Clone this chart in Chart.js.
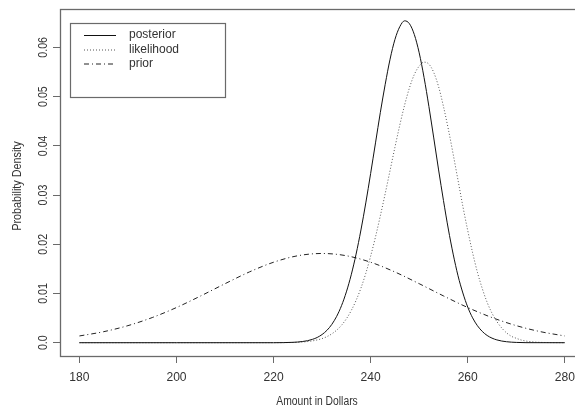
<!DOCTYPE html>
<html>
<head>
<meta charset="utf-8">
<script src="https://cdn.jsdelivr.net/npm/chart.js@4.4.1/dist/chart.umd.min.js"></script>
<style>
  html, body { margin: 0; padding: 0; background: #fff; }
  #chart { display: block; }
</style>
</head>
<body>
<canvas id="chart" width="575" height="409"></canvas>
<script>
// values
const posteriorX = [180, 200, 220, 224, 225, 226, 227, 228, 229, 230, 231, 232, 233, 234, 235, 236, 237, 238, 239, 240,
    241, 242, 243, 244, 245, 246, 247, 248, 249, 250, 251, 252, 253, 254, 255, 256, 257, 258, 259, 260,
    261, 262, 263, 264, 265, 266, 267, 268, 269, 270, 272, 280];
const posteriorY = [0, 0, 0, 0.00008, 0.00014, 0.00025, 0.00041, 0.00068, 0.00107, 0.00167, 0.00252, 0.00372, 0.00536, 0.00753, 0.01033, 0.0138, 0.018, 0.0229, 0.0284, 0.0344,
    0.0406, 0.0468, 0.0525, 0.0576, 0.0616, 0.0642, 0.0654, 0.0648, 0.0626, 0.0589, 0.0539, 0.048, 0.0416, 0.0351, 0.0289, 0.0231, 0.018, 0.0136, 0.0101, 0.00724,
    0.00506, 0.00345, 0.00229, 0.00147, 0.00093, 0.00057, 0.00034, 0.0002, 0.00011, 0.00006, 0.00001, 0];

const likelihoodX = [180, 200, 220, 225, 228, 230, 231, 232, 233, 234, 235, 236, 237, 238, 239, 240,
    241, 242, 243, 244, 245, 246, 247, 248, 249, 250, 251, 252, 253, 254, 255, 256, 257, 258, 259, 260,
    261, 262, 263, 264, 265, 266, 267, 268, 269, 270, 271, 272, 274, 276, 280];
const likelihoodY = [0, 0, 0.00001, 0.00009, 0.00037, 0.00084, 0.00124, 0.0018, 0.00255, 0.00355, 0.00486, 0.00653, 0.0086, 0.0111, 0.0141, 0.0176,
    0.0215, 0.0258, 0.0303, 0.035, 0.0397, 0.0442, 0.0483, 0.0518, 0.0545, 0.0562, 0.057, 0.0566, 0.0549, 0.052, 0.048, 0.0434, 0.0383, 0.033, 0.0277, 0.0228,
    0.0183, 0.0143, 0.011, 0.0082, 0.006, 0.0043, 0.003, 0.002, 0.0013, 0.0009, 0.00055, 0.00034, 0.00012, 0.00004, 0];

const priorX = [180, 185, 190, 195, 200, 205, 210, 215, 220, 225, 230, 235, 240, 245, 250, 255, 260, 265, 270, 275, 280];
const priorY = [0.00137, 0.00224, 0.00347, 0.00511, 0.00715, 0.00951, 0.01199, 0.01437, 0.01635, 0.01767, 0.01813,
    0.01767, 0.01635, 0.01437, 0.01199, 0.00951, 0.00715, 0.00511, 0.00347, 0.00224, 0.00137];

const xTicks = [180, 200, 220, 240, 260, 280];
const yTicks = [0, 0.01, 0.02, 0.03, 0.04, 0.05, 0.06];
const yTickLabels = ['0.0', '0.01', '0.02', '0.03', '0.04', '0.05', '0.06'];
const seriesNames = ['posterior', 'likelihood', 'prior'];

const FONT = "'Liberation Sans', Arial, sans-serif";
const TEXT = '#333';
const AXIS = '#6a6a6a';

const toPoints = (xs, ys) => xs.map((x, i) => ({ x: x, y: ys[i] }));

const dashes = [[], [1, 2], [5, 3, 1, 3]];
const lineColors = ['#111', '#555', '#222'];

// text helper, sx squeezes along the text direction
const drawText = (ctx, txt, x, y, size, sx, rot) => {
    ctx.save();
    ctx.translate(x, y);
    if (rot) ctx.rotate(rot);
    ctx.scale(sx, 1);
    ctx.font = size + 'px ' + FONT;
    ctx.fillStyle = TEXT;
    ctx.textAlign = 'center';
    ctx.textBaseline = 'middle';
    ctx.fillText(txt, 0, 0);
    ctx.restore();
};

const rDecor = {
    id: 'rDecor',
    afterDraw(chart) {
        const ctx = chart.ctx;
        const area = chart.chartArea;
        const xs = chart.scales.x;
        const ys = chart.scales.y;

        // plot box (right side runs off the canvas)
        ctx.save();
        ctx.strokeStyle = AXIS;
        ctx.lineWidth = 1.3;
        ctx.strokeRect(area.left + 0.5, area.top + 0.5, 600, area.bottom - area.top);
        ctx.restore();

        xTicks.forEach(v => drawText(ctx, String(v), xs.getPixelForValue(v), 377, 13, 0.93, 0));
        yTicks.forEach((v, i) => drawText(ctx, yTickLabels[i], 43, ys.getPixelForValue(v), 13, 0.82, -Math.PI / 2));

        drawText(ctx, 'Amount in Dollars', 317, 402, 12, 0.86, 0);
        drawText(ctx, 'Probability Density', 18, 186, 12, 0.9, -Math.PI / 2);

        // legend
        ctx.save();
        ctx.strokeStyle = AXIS;
        ctx.lineWidth = 1.2;
        ctx.strokeRect(70.5, 23.5, 155, 74);
        const rows = [35, 49.5, 63.5];
        seriesNames.forEach((name, i) => {
            ctx.beginPath();
            ctx.setLineDash(dashes[i]);
            ctx.strokeStyle = lineColors[i];
            ctx.lineWidth = 1;
            ctx.moveTo(84, rows[i] + 0.5);
            ctx.lineTo(116, rows[i] + 0.5);
            ctx.stroke();
            ctx.setLineDash([]);
            ctx.font = '12px ' + FONT;
            ctx.fillStyle = TEXT;
            ctx.textAlign = 'left';
            ctx.textBaseline = 'middle';
            ctx.fillText(name, 129, rows[i]);
        });
        ctx.restore();
    }
};

new Chart(document.getElementById('chart'), {
    type: 'line',
    data: {
        datasets: [
            { label: seriesNames[0], data: toPoints(posteriorX, posteriorY) },
            { label: seriesNames[1], data: toPoints(likelihoodX, likelihoodY) },
            { label: seriesNames[2], data: toPoints(priorX, priorY) }
        ].map((d, i) => Object.assign(d, {
            borderColor: lineColors[i],
            borderWidth: 1,
            borderDash: dashes[i],
            pointRadius: 0,
            fill: false,
            cubicInterpolationMode: 'monotone'
        }))
    },
    options: {
        responsive: false,
        animation: false,
        layout: { padding: { top: 9, right: 0, left: 0, bottom: 0 } },
        plugins: { legend: { display: false }, tooltip: { enabled: false } },
        scales: {
            x: {
                type: 'linear',
                min: 176,
                max: 282.1,
                afterBuildTicks: s => { s.ticks = xTicks.map(v => ({ value: v })); },
                afterFit: s => { s.height = 53; },
                ticks: { display: false },
                grid: { drawOnChartArea: false, drawTicks: true, tickLength: 7, color: AXIS, lineWidth: 1 },
                border: { display: false }
            },
            y: {
                type: 'linear',
                min: -0.0027,
                max: 0.0678,
                afterBuildTicks: s => { s.ticks = yTicks.map(v => ({ value: v })); },
                afterFit: s => { s.width = 60; },
                ticks: { display: false },
                grid: { drawOnChartArea: false, drawTicks: true, tickLength: 7, color: AXIS, lineWidth: 1 },
                border: { display: false }
            }
        }
    },
    plugins: [rDecor]
});
</script>
</body>
</html>
